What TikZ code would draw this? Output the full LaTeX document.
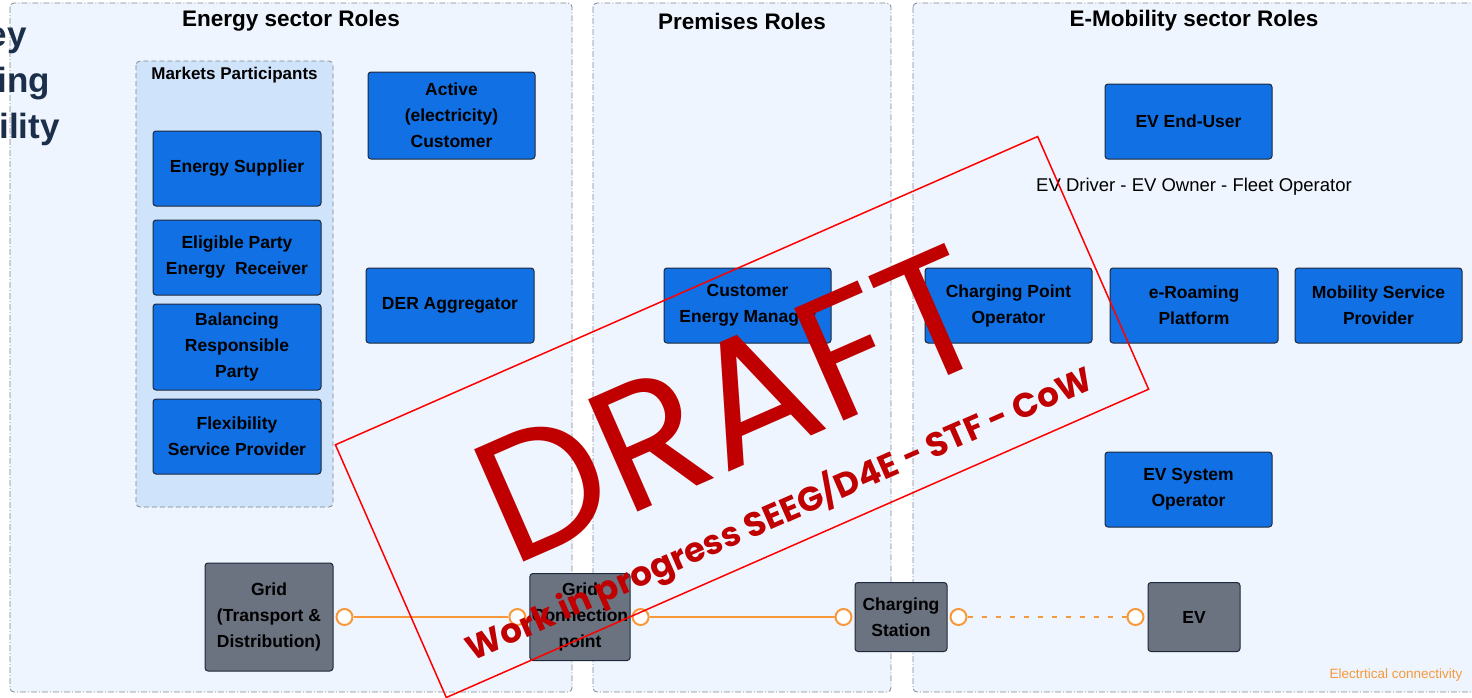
\documentclass[tikz,border=0pt]{standalone}
\usepackage{fontspec}
\setmainfont{Liberation Sans}
\newfontfamily\draftfont{Poppins}
\usepackage{tikz}
\usetikzlibrary{positioning}

\definecolor{panelfill}{RGB}{238,245,254}
\definecolor{panelline}{RGB}{128,134,144}
\definecolor{marketfill}{RGB}{207,227,251}
\definecolor{roleblue}{RGB}{17,112,227}
\definecolor{roleline}{RGB}{30,41,59}
\definecolor{assetgray}{RGB}{107,114,128}
\definecolor{wireorange}{RGB}{247,153,59}
\definecolor{draftred}{RGB}{192,0,0}
\definecolor{titlenavy}{RGB}{27,47,75}

\tikzset{
  panel/.style={draw=panelline,fill=panelfill,rounded corners=4pt,line width=0.8pt,dash pattern=on 6pt off 2pt on 1pt off 2pt},
  market/.style={draw=panelline,fill=marketfill,rounded corners=4pt,line width=0.8pt,dash pattern=on 5pt off 3pt},
  role/.style={shape=rectangle,draw=roleline,fill=roleblue,line width=1pt,rounded corners=3pt,align=center,inner sep=2pt,font=\bfseries\fontsize{17.5}{26}\selectfont},
  asset/.style={role,fill=assetgray},
  port/.style={shape=circle,draw=wireorange,fill=white,line width=2pt,minimum size=16pt,inner sep=0pt},
  wire/.style={draw=wireorange,line width=2pt},
  heading/.style={font=\bfseries\fontsize{22.5}{24}\selectfont},
}

\begin{document}
\begin{tikzpicture}[x=1pt,y=-1pt]

\useasboundingbox (0,0) rectangle (1472,697);
\clip (0,0) rectangle (1472,697);

% sector panels
\draw[panel] (10,3) rectangle (572,692);
\draw[panel] (593,3) rectangle (891,692);
\draw[panel] (913,3) rectangle (1485,692);

\node[heading] (energyhead) at (291,21) {Energy sector Roles};
\node[heading] (premhead) at (742,21) {Premises Roles};
\node[heading] (emobhead) at (1194,21) {E-Mobility sector Roles};

% title running in from the left
\node[anchor=base east,inner sep=0pt,text=titlenavy,font=\bfseries\fontsize{35}{44}\selectfont] (ttl1) at (27,46) {ey};
\node[anchor=base east,inner sep=0pt,text=titlenavy,font=\bfseries\fontsize{35}{44}\selectfont] (ttl2) at (50,92) {ing};
\node[anchor=base east,inner sep=0pt,text=titlenavy,font=\bfseries\fontsize{35}{44}\selectfont] (ttl3) at (60,138) {ility};

% market participants group
\draw[market] (136,61) rectangle (333,507);
\node[font=\bfseries\fontsize{17}{18}\selectfont] (markethead) at (234.5,75) {Markets Participants};

\node[role,minimum width=168pt,minimum height=75pt] (esup) at (237,168.5) {Energy Supplier};
\node[role,minimum width=168pt,minimum height=75pt] (eprx) at (237,257.5) {Eligible Party\\Energy~ Receiver};
\node[role,minimum width=168pt,minimum height=86pt] (brp) at (237,347) {Balancing\\Responsible\\Party};
\node[role,minimum width=168pt,minimum height=75pt] (fsp) at (237,436.5) {Flexibility\\Service Provider};

% other energy roles
\node[role,minimum width=167pt,minimum height=87pt] (aec) at (451.5,115.5) {Active\\(electricity)\\Customer};
\node[role,minimum width=168pt,minimum height=75pt] (dera) at (450,305.5) {DER Aggregator};

% premises
\node[role,minimum width=167pt,minimum height=75pt] (cem) at (747.5,305.5) {Customer\\Energy Manager};

% e-mobility roles
\node[role,minimum width=167pt,minimum height=75pt] (evu) at (1188.5,121.5) {EV End-User};
\node[font=\fontsize{18.5}{20}\selectfont] (evroles) at (1194,187) {EV Driver - EV Owner - Fleet Operator};
\node[role,minimum width=167pt,minimum height=75pt] (cpo) at (1008.5,305.5) {Charging Point\\Operator};
\node[role,minimum width=168pt,minimum height=75pt] (erp) at (1194,305.5) {e-Roaming\\Platform};
\node[role,minimum width=167pt,minimum height=75pt] (msp) at (1378.5,305.5) {Mobility Service\\Provider};
\node[role,minimum width=167pt,minimum height=75pt] (evso) at (1188.5,489.5) {EV System\\Operator};

% physical assets
\node[asset,minimum width=128pt,minimum height=108pt] (grid) at (269,617) {Grid\\(Transport \&\\Distribution)};
\node[asset,minimum width=92pt,minimum height=87pt] (gcp) at (580,617) {Grid\\Connection\\point};
\node[asset,minimum width=92pt,minimum height=69pt] (cs) at (901,617) {Charging\\Station};
\node[asset,minimum width=92pt,minimum height=69pt] (ev) at (1194,617) {EV};

% electrical links
\node[port,right=2pt of grid] (gridR) {};
\node[port,left=3pt of gcp] (gcpL) {};
\node[port,right=1pt of gcp] (gcpR) {};
\node[port,left=2pt of cs] (csL) {};
\node[port,right=2pt of cs] (csR) {};
\node[port,left=3pt of ev] (evL) {};

\draw[wire] (gridR) -- (gcpL);
\draw[wire] (gcpR) -- (csL);
\draw[wire,dash pattern=on 5pt off 9pt] (csR) -- (evL);

\node[anchor=east,text=wireorange,font=\fontsize{13.5}{15}\selectfont] (legend) at (1466,675) {Electrtical connectivity};

% draft stamp
\node[draw=red,line width=1.5pt,rotate=23.7,minimum width=767pt,minimum height=276pt] (stamp) at (742,417) {};
\node[rotate=23.7,inner sep=0pt,text=draftred,font=\draftfont\fontsize{176}{176}\selectfont] (draft) at (731,404) {DRAFT};
\node[rotate=23.7,inner sep=0pt,text=draftred,font=\draftfont\bfseries\fontsize{34}{34}\selectfont] (wip) at (779,514) {Work in progress SEEG/D4E - STF - CoW};

\end{tikzpicture}
\end{document}
